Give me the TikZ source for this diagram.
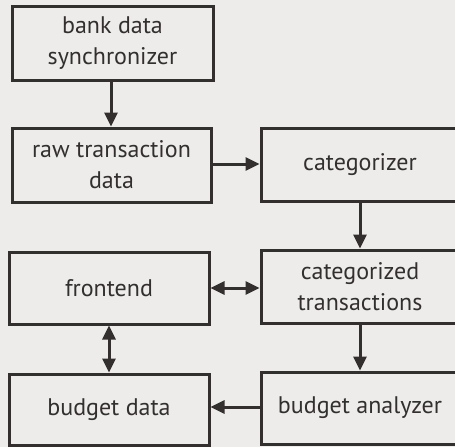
\documentclass[tikz,border=0pt]{standalone}
\usepackage{fontspec}
\setmainfont{PT Sans}
\usetikzlibrary{arrows.meta}
\definecolor{bg}{HTML}{EEEBEB}
\definecolor{ink}{HTML}{332F2F}
\tikzset{
  box/.style={draw=ink, line width=3pt, fill=bg, rectangle, align=center,
    inner sep=0pt, text=ink, font=\fontsize{24}{31}\selectfont},
  conn/.style={draw=ink, line width=3pt, -{Triangle[length=14pt,width=13pt]}},
  conn2/.style={draw=ink, line width=3pt, {Triangle[length=14pt,width=13pt]}-{Triangle[length=14pt,width=13pt]}}
}
\begin{document}
\begin{tikzpicture}[x=1pt,y=-1pt]
\fill[bg] (0,0) rectangle (455,447);
\useasboundingbox (0,0) rectangle (455,447);
\clip (0,0) rectangle (455,447);
\node[box, minimum width=201pt, minimum height=74pt] (sync) at (112.5,43) {bank data\\synchronizer};
\node[box, minimum width=199pt, minimum height=74pt] (raw) at (111.5,165) {raw transaction\\data};
\node[box, minimum width=198pt, minimum height=73pt] (cat) at (360,164.5) {categorizer};
\node[box, minimum width=200pt, minimum height=72pt] (front) at (109,288) {frontend};
\node[box, minimum width=198pt, minimum height=73pt] (ctx) at (360,286.5) {categorized\\transactions};
\node[box, minimum width=200pt, minimum height=71pt] (bdata) at (109,409.5) {budget data};
\node[box, minimum width=198pt, minimum height=72pt] (ana) at (360,408) {budget analyzer};
\draw[conn] (sync.south -| 111,0) -- (raw.north -| 111,0);
\draw[conn] (raw.east |- 0,164) -- (cat.west |- 0,164);
\draw[conn] (cat) -- (ctx);
\draw[conn2] (front.east) -- (ctx.west |- front.east);
\draw[conn2] (front) -- (bdata);
\draw[conn] (ctx) -- (ana);
\draw[conn] (ana.west |- 0,407) -- (bdata.east |- 0,407);
\end{tikzpicture}
\end{document}
